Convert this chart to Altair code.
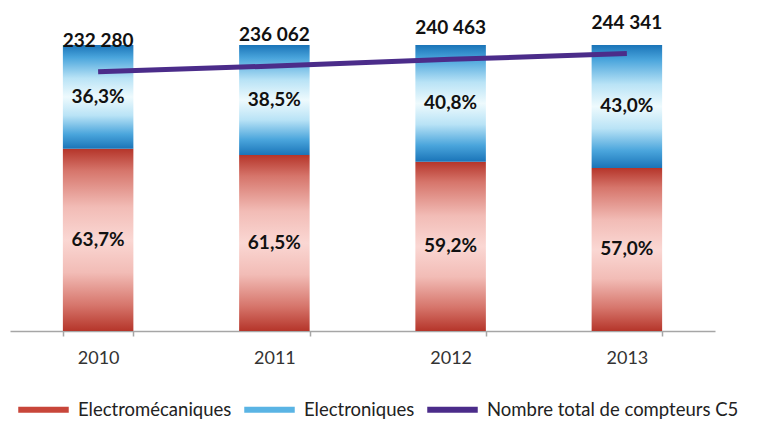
import altair as alt
import pandas as pd

years = ["2010", "2011", "2012", "2013"]
electromecaniques = [63.7, 61.5, 59.2, 57.0]
electroniques = [36.3, 38.5, 40.8, 43.0]
totaux = [232280, 236062, 240463, 244341]
series = ["Electromécaniques", "Electroniques", "Nombre total de compteurs C5"]
series_colors = ["#c8463a", "#5ab4e4", "#4b2c8a"]

df = pd.DataFrame({"year": years, "em": electromecaniques, "el": electroniques,
                   "total": totaux, "serie": series[2]})

FONT = "Lato"

def grad(dark, mid, light, center):
    return alt.Gradient(
        gradient="linear", x1=0, x2=0, y1=0, y2=1,
        stops=[
            alt.GradientStop(color=dark, offset=0),
            alt.GradientStop(color=mid, offset=0.12),
            alt.GradientStop(color=light, offset=0.32),
            alt.GradientStop(color=center, offset=0.5),
            alt.GradientStop(color=light, offset=0.68),
            alt.GradientStop(color=mid, offset=0.86),
            alt.GradientStop(color=dark, offset=1),
        ],
    )

red_grad = grad("#b5352a", "#d6756b", "#f2bcb6", "#fad7d3")
blue_grad = grad("#1a74b8", "#4aa5dc", "#b9e3f6", "#eefafd")

xenc = alt.X("year:N", title=None,
             scale=alt.Scale(paddingInner=0.6, paddingOuter=0.3),
             axis=alt.Axis(labelAngle=0, labelFont=FONT, labelFontSize=18,
                           labelColor="#333333", labelPadding=13,
                           tickBand="extent", tickSize=5, tickColor="#a6a6a6",
                           domainColor="#a6a6a6", domainWidth=1.5, tickWidth=1.5))

yscale = alt.Scale(domain=[0, 100])

base = alt.Chart(df)

red = base.mark_bar(color=red_grad).encode(
    x=xenc, y=alt.Y("em:Q", scale=yscale, axis=None))

blue = base.transform_calculate(top="100").mark_bar(color=blue_grad).encode(
    x=xenc, y=alt.Y("top:Q", scale=yscale, axis=None), y2="em:Q")

txt_em = base.transform_calculate(
    mid="datum.em / 2",
    lab="replace(format(datum.em, '.1f'), '.', ',') + '%'"
).mark_text(font=FONT, fontSize=19, fontWeight="bold", color="#111111",
            baseline="middle").encode(
    x=xenc, y=alt.Y("mid:Q", scale=yscale, axis=None), text="lab:N")

txt_el = base.transform_calculate(
    mid="datum.em + datum.el / 2",
    lab="replace(format(datum.el, '.1f'), '.', ',') + '%'"
).mark_text(font=FONT, fontSize=19, fontWeight="bold", color="#111111",
            baseline="middle").encode(
    x=xenc, y=alt.Y("mid:Q", scale=yscale, axis=None), text="lab:N")

bars = alt.layer(red, blue, txt_em, txt_el)

lscale = alt.Scale(domain=[60000, 250000], zero=False)

line = base.mark_line(strokeWidth=5).encode(
    x=xenc,
    y=alt.Y("total:Q", scale=lscale, axis=None),
    color=alt.Color("serie:N", title=None,
                    scale=alt.Scale(domain=series, range=series_colors),
                    legend=alt.Legend(orient="none", direction="horizontal",
                                      legendX=5, legendY=336,
                                      symbolType="stroke", symbolSize=2550,
                                      symbolStrokeWidth=6, labelFont=FONT,
                                      labelFontSize=18.5, labelColor="#222222",
                                      labelOffset=6, columnPadding=0,
                                      labelLimit=400)))

tot_txt = base.transform_calculate(
    lab="replace(format(datum.total, ','), ',', ' ')"
).mark_text(font=FONT, fontSize=19, fontWeight="bold", color="#111111",
            baseline="middle", dy=-31).encode(
    x=xenc, y=alt.Y("total:Q", scale=lscale, axis=None), text="lab:N")

lines = alt.layer(line, tot_txt)

chart = alt.layer(bars, lines).resolve_scale(y="independent").properties(
    width=705, height=286,
    padding={"left": 2, "top": 37, "right": 47, "bottom": 91},
    autosize="none",
).configure_view(stroke=None)

chart.save("out.html", embed_options={"renderer": "svg", "actions": False})
